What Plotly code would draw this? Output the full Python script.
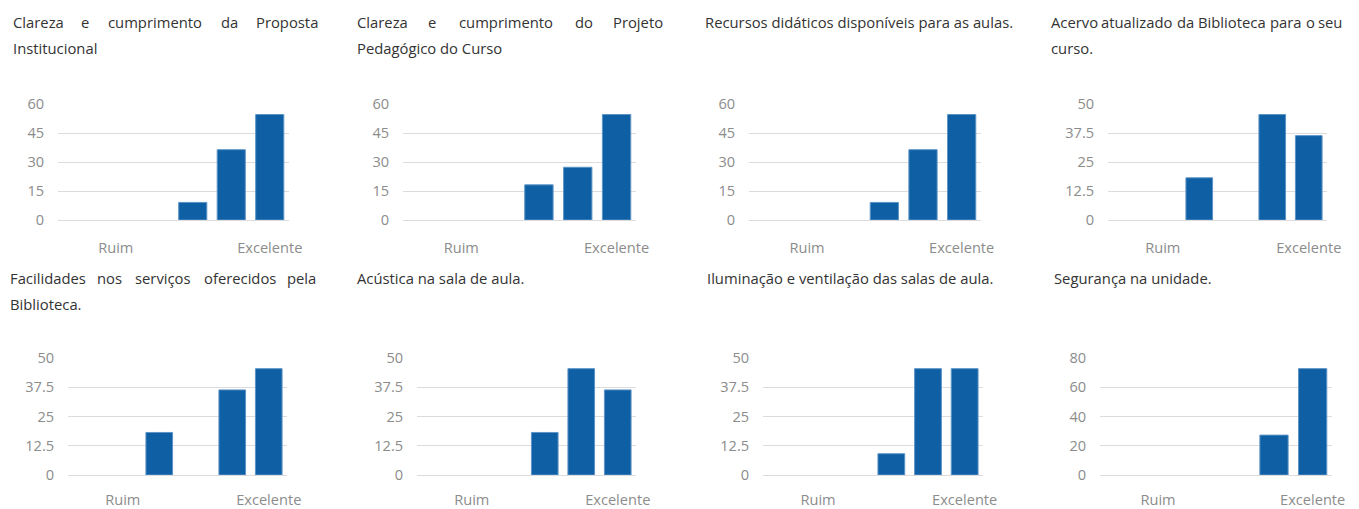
import plotly.graph_objects as go

W, H = 1359, 509

# ---------------- data ----------------
tick_labels = ["Ruim", "Excelente"]
tick_positions = [1, 5]
x_slots = [0, 1, 2, 3, 4, 5]

titles = [
    ["Clareza e cumprimento da Proposta", "Institucional"],
    ["Clareza e cumprimento do Projeto", "Pedagógico do Curso"],
    ["Recursos didáticos disponíveis para as aulas."],
    ["Acervo atualizado da Biblioteca para o seu", "curso."],
    ["Facilidades nos serviços oferecidos pela", "Biblioteca."],
    ["Acústica na sala de aula."],
    ["Iluminação e ventilação das salas de aula."],
    ["Segurança na unidade."],
]

v1 = [0, 0, 0, 9.09, 36.36, 54.55]
v2 = [0, 0, 0, 18.18, 27.27, 54.55]
v3 = [0, 0, 0, 9.09, 36.36, 54.55]
v4 = [0, 0, 18.18, 0, 45.45, 36.36]
v5 = [0, 0, 18.18, 0, 36.36, 45.45]
v6 = [0, 0, 0, 18.18, 45.45, 36.36]
v7 = [0, 0, 0, 9.09, 45.45, 45.45]
v8 = [0, 0, 0, 0, 27.27, 72.73]
series = [v1, v2, v3, v4, v5, v6, v7, v8]

y_max = [60, 60, 60, 50, 50, 50, 50, 80]
y_step = [15, 15, 15, 12.5, 12.5, 12.5, 12.5, 20]

# ---------------- layout (pixels) ----------------
plot_x = [(58, 289), (403, 636), (749, 981), (1108, 1327),
          (68, 287), (417, 636), (763, 983), (1100, 1332)]
plot_y = [(104, 220)] * 4 + [(358, 475)] * 4
title_x = [(11, 320), (355, 665), (703, 1010), (1049, 1344),
           (8, 318), (355, 665), (705, 1012), (1052, 1344)]
title_y = [22, 278]
line_h = 26
xtick_len = [14, 11]

BAR = "#0e5fa3"
BAR_EDGE = "#5c93c6"
GRID = "#dcdcdc"
TICK = "#8c8c8c"
TITLE = "#333333"
FONT = "Open Sans"
TITLE_SIZE = 14.8
TICK_SIZE = 14.6

# approximate Open Sans advance widths (em)
ADV = {
    'a': .556, 'b': .613, 'c': .479, 'd': .613, 'e': .561, 'f': .336, 'g': .546,
    'h': .614, 'i': .252, 'j': .252, 'k': .529, 'l': .252, 'm': .932, 'n': .614,
    'o': .601, 'p': .613, 'q': .613, 'r': .409, 's': .476, 't': .353, 'u': .614,
    'v': .500, 'w': .786, 'x': .518, 'y': .500, 'z': .468, '.': .268, ',': .250,
    'A': .633, 'B': .647, 'C': .631, 'D': .729, 'E': .556, 'F': .516, 'I': .279,
    'P': .603, 'R': .618, 'S': .548,
}


def text_w(s, size):
    total = 0.0
    for c in s:
        base = c
        for src, dst in (("áàâã", "a"), ("éê", "e"), ("í", "i"), ("óôõ", "o"),
                         ("ú", "u"), ("ç", "c")):
            if c in src:
                base = dst
        total += ADV.get(base, .58)
    return total * size


fig = go.Figure()
annotations = []

for i, vals in enumerate(series):
    xa = "x" if i == 0 else f"x{i+1}"
    ya = "y" if i == 0 else f"y{i+1}"
    row = 0 if i < 4 else 1
    shown = [v if v > 0 else None for v in vals]
    fig.add_trace(go.Bar(
        x=x_slots, y=shown, xaxis=xa, yaxis=ya,
        marker=dict(color=BAR, line=dict(color=BAR_EDGE, width=1)),
        showlegend=False, hoverinfo="y",
    ))
    x0, x1 = plot_x[i]
    y0, y1 = plot_y[i]
    axn = "" if i == 0 else str(i + 1)
    fig.layout["xaxis" + axn] = dict(
        domain=[x0 / W, x1 / W], anchor=ya, range=[-0.5, 5.5],
        tickmode="array", tickvals=tick_positions, ticktext=tick_labels,
        showgrid=False, zeroline=False, showline=False, automargin=False,
        ticks="outside", ticklen=xtick_len[row], tickcolor="rgba(0,0,0,0)",
        tickfont=dict(family=FONT, size=TICK_SIZE, color=TICK), fixedrange=True,
    )
    fig.layout["yaxis" + axn] = dict(
        domain=[1 - y1 / H, 1 - y0 / H], anchor=xa, range=[0, y_max[i]],
        dtick=y_step[i], tick0=0, showgrid=True, gridcolor=GRID, gridwidth=1,
        zeroline=True, zerolinecolor=GRID, zerolinewidth=1, showline=False,
        automargin=False,
        ticks="outside", ticklen=10, tickcolor="rgba(0,0,0,0)",
        tickfont=dict(family=FONT, size=TICK_SIZE, color=TICK), fixedrange=True,
    )

    # justified title
    tx0, tx1 = title_x[i]
    lines = titles[i]
    for li, line in enumerate(lines):
        ypx = title_y[row] + li * line_h
        words = line.split(" ")
        last = li == len(lines) - 1
        if last or len(words) == 1:
            annotations.append(dict(
                text=line, x=tx0 / W, y=1 - ypx / H, xref="paper", yref="paper",
                xanchor="left", yanchor="middle", showarrow=False,
                font=dict(family=FONT, size=TITLE_SIZE, color=TITLE)))
            continue
        widths = [text_w(w, TITLE_SIZE) for w in words]
        gap = ((tx1 - tx0) - sum(widths)) / (len(words) - 1)
        pos = tx0
        for wi, w in enumerate(words):
            if wi == 0:
                xp, anc = tx0, "left"
            elif wi == len(words) - 1:
                xp, anc = tx1, "right"
            else:
                xp, anc = pos + widths[wi] / 2, "center"
            annotations.append(dict(
                text=w, x=xp / W, y=1 - ypx / H, xref="paper", yref="paper",
                xanchor=anc, yanchor="middle", showarrow=False,
                font=dict(family=FONT, size=TITLE_SIZE, color=TITLE)))
            pos += widths[wi] + gap

fig.update_layout(
    template="none",
    width=W, height=H, margin=dict(l=0, r=0, t=0, b=0, pad=0),
    paper_bgcolor="white", plot_bgcolor="white",
    bargap=0.27, annotations=annotations,
)

fig.write_html("out.html", config={"displayModeBar": False},
               post_script="document.body.style.margin='0';document.body.style.overflow='hidden';")
